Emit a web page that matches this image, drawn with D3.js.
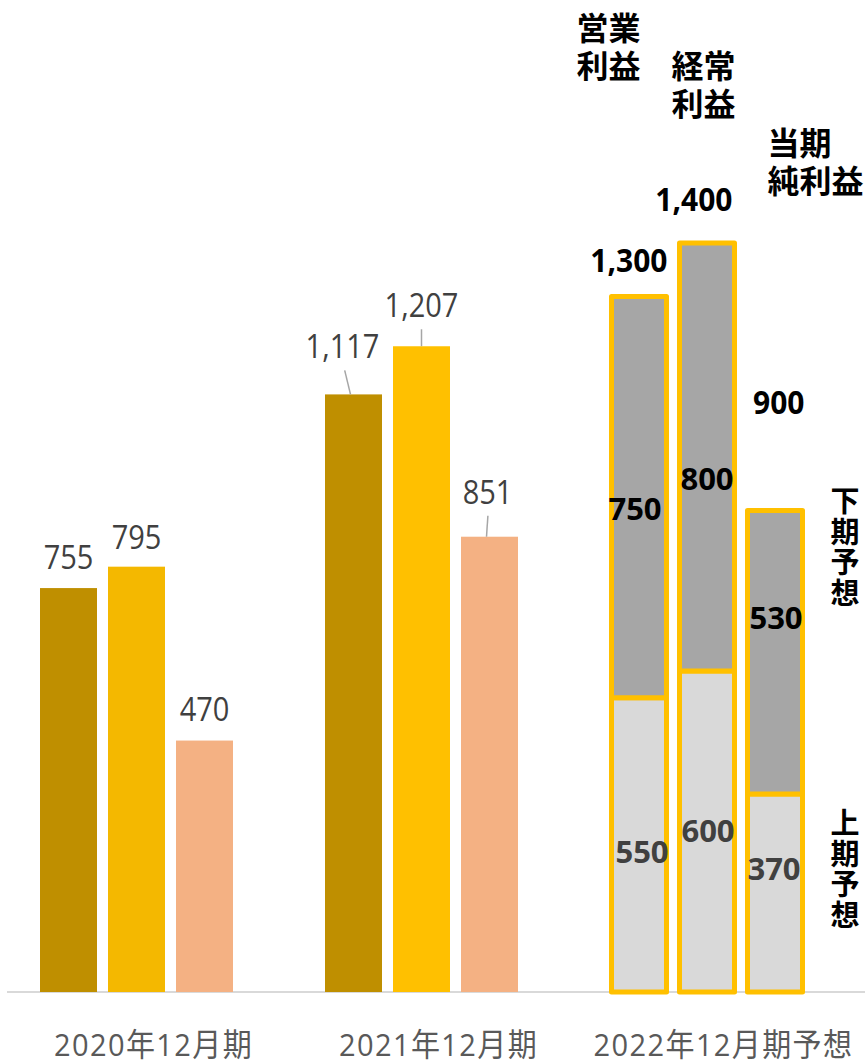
<!DOCTYPE html>
<html>
<head>
<meta charset="utf-8">
<script src="https://cdn.jsdelivr.net/npm/d3@7"></script>
<style>
  html, body { margin: 0; padding: 0; background: #fff; }
  svg { display: block; }
  text { font-family: "Open Sans", "Noto Sans CJK JP", sans-serif; }
  .cjk { font-family: "Noto Sans CJK JP", sans-serif; }
</style>
</head>
<body>
<div id="chart"></div>
<script>
// ---- data ----
const categories = ["2020年12月期", "2021年12月期", "2022年12月期予想"];
const seriesNames = ["営業利益", "経常利益", "当期純利益"];
const actual2020 = [755, 795, 470];
const actual2021 = [1117, 1207, 851];
const forecastFirstHalf = [550, 600, 370];   // 上期予想
const forecastSecondHalf = [750, 800, 530];  // 下期予想
const forecastTotal = [1300, 1400, 900];
const seriesLabelLines = [["営業", "利益"], ["経常", "利益"], ["当期", "純利益"]];
const halfLabels = ["下期予想", "上期予想"];

// ---- layout ----
const W = 865, H = 1061;
const baseY = 992;
const svg = d3.select("#chart").append("svg").attr("width", W).attr("height", H);

const x0 = d3.scaleBand().domain(categories).range([10, 865]);
const x1 = d3.scaleBand().domain(d3.range(seriesNames.length))
  .range([30, 223]).paddingInner(11 / 68).paddingOuter(0);
const y = d3.scaleLinear().domain([0, 1400]).range([baseY, baseY - 1400 * 0.535]);

const fmt = d3.format(",");
const histColors = [
  ["#BF8F00", "#F4B800", "#F4B183"],
  ["#BF8F00", "#FFC000", "#F4B183"]
];

// baseline
svg.append("line")
  .attr("x1", 7).attr("x2", 865).attr("y1", baseY).attr("y2", baseY)
  .attr("stroke", "#D9D9D9").attr("stroke-width", 2);

// ---- actual years ----
const actual = [actual2020, actual2021];
// label placement relative to bar top: [dx, dy above top, leader line?]
const labelPlace = [
  [[0, 19, false], [0, 18, false], [0, 20, false]],
  [[-11, 36, true], [0, 29, true], [-2, 33, true]]
];

actual.forEach((vals, ci) => {
  const g = svg.append("g").attr("transform", `translate(${x0(categories[ci])},0)`);
  g.selectAll("rect").data(vals).join("rect")
    .attr("x", (d, i) => x1(i))
    .attr("y", d => y(d))
    .attr("width", x1.bandwidth())
    .attr("height", d => y(0) - y(d))
    .attr("fill", (d, i) => histColors[ci][i]);

  vals.forEach((v, i) => {
    const cx = x1(i) + x1.bandwidth() / 2;
    const [dx, dy, leader] = labelPlace[ci][i];
    const ty = y(v) - dy;
    if (leader) {
      g.append("line")
        .attr("x1", cx + dx * 0.8).attr("y1", ty + 12)
        .attr("x2", cx - 3 * (dx !== 0)).attr("y2", y(v))
        .attr("stroke", "#A6A6A6").attr("stroke-width", 1.5);
    }
    g.append("text")
      .attr("transform", `translate(${cx + dx},${ty}) scale(1,1.15)`)
      .attr("text-anchor", "middle")
      .attr("font-size", 29)
      .attr("fill", "#404040")
      .text(fmt(v));
  });
});

// ---- forecast (stacked: first half + second half) ----
const gF = svg.append("g").attr("transform", `translate(${x0(categories[2])},0)`);
const fw = x1.bandwidth() - 2;
const fx = i => x1(i) + 1.5;
const stacked = forecastFirstHalf.map((a, i) => [
  { y0: 0, y1: a, fill: "#D9D9D9" },
  { y0: a, y1: a + forecastSecondHalf[i], fill: "#A6A6A6" }
]);

stacked.forEach((segs, i) => {
  gF.selectAll(null).data(segs).join("rect")
    .attr("x", fx(i))
    .attr("y", d => y(d.y1))
    .attr("width", fw)
    .attr("height", d => y(d.y0) - y(d.y1))
    .attr("fill", d => d.fill)
    .attr("stroke", "#FFC000")
    .attr("stroke-width", 5)
    .attr("stroke-linejoin", "round");
});

// totals above stacks (right aligned to bar)
const totalPlace = [[1, 25], [-2, 32], [2, 97]];
forecastTotal.forEach((v, i) => {
  const [dx, dy] = totalPlace[i];
  gF.append("text")
    .attr("transform", `translate(${fx(i) + fw + dx},${y(v) - dy}) scale(1,1.05)`)
    .attr("text-anchor", "end")
    .attr("font-size", 30)
    .attr("font-weight", 700)
    .attr("fill", "#000")
    .text(fmt(v));
});

// segment values
const secondPlace = [[-4, 12], [0, 22], [1, -34]];
forecastSecondHalf.forEach((v, i) => {
  const [dx, dy] = secondPlace[i];
  const mid = (y(forecastFirstHalf[i]) + y(forecastFirstHalf[i] + v)) / 2;
  gF.append("text")
    .attr("x", fx(i) + fw / 2 + dx)
    .attr("y", mid + dy + 11)
    .attr("text-anchor", "middle")
    .attr("font-size", 31)
    .attr("font-weight", 700)
    .attr("fill", "#000")
    .text(fmt(v));
});
const firstPlace = [[3, 7], [1, -1], [-1, -24]];
forecastFirstHalf.forEach((v, i) => {
  const [dx, dy] = firstPlace[i];
  const mid = (y(0) + y(v)) / 2;
  gF.append("text")
    .attr("x", fx(i) + fw / 2 + dx)
    .attr("y", mid + dy + 11)
    .attr("text-anchor", "middle")
    .attr("font-size", 31)
    .attr("font-weight", 700)
    .attr("fill", "#404040")
    .text(fmt(v));
});

// series name labels above the forecast stacks
const namePlace = [[-35, 40], [-8, 78], [20, 155]];
seriesLabelLines.forEach((lines, i) => {
  const [dx, by] = namePlace[i];
  const t = gF.append("text")
    .attr("class", "cjk")
    .attr("x", fx(i) + dx)
    .attr("y", by)
    .attr("font-size", 32)
    .attr("font-weight", 700)
    .attr("fill", "#000");
  lines.forEach((ln, k) => {
    t.append("tspan").attr("x", fx(i) + dx).attr("dy", k === 0 ? 0 : 38).text(ln);
  });
});

// vertical half-year labels on the right
const halfTop = [512, 834];
halfLabels.forEach((lab, j) => {
  const g = svg.append("g");
  Array.from(lab).forEach((ch, k) => {
    g.append("text")
      .attr("class", "cjk")
      .attr("text-anchor", "middle")
      .attr("font-size", 29)
      .attr("font-weight", 700)
      .attr("fill", "#000")
      .attr("x", 845).attr("y", halfTop[j] + k * 30.5)
      .text(ch);
  });
});

// category axis labels
svg.selectAll(".cat").data(categories).join("text")
  .attr("class", "cat")
  .attr("transform", d => `translate(${x0(d) + x0.bandwidth() / 2 + 1},${1056}) scale(1,1.08)`)
  .attr("text-anchor", "middle")
  .attr("font-size", 29)
  .attr("letter-spacing", 1.4)
  .attr("fill", "#595959")
  .text(d => d);
</script>
</body>
</html>
